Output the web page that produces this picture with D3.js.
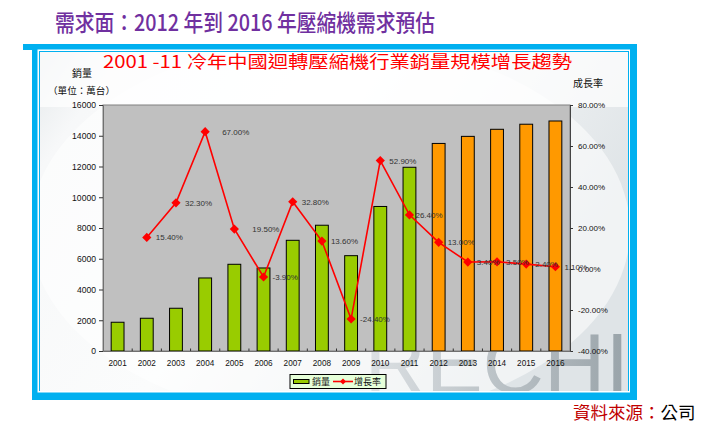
<!DOCTYPE html>
<html>
<head>
<meta charset="utf-8">
<script src="https://cdn.jsdelivr.net/npm/d3@7/dist/d3.min.js"></script>
<style>
  html, body { margin: 0; padding: 0; background: #ffffff; }
  svg { display: block; }
</style>
</head>
<body>
<svg id="chart" width="716" height="442"></svg>
<script>
// ---------------- data ----------------
const categories = ['2001','2002','2003','2004','2005','2006','2007','2008','2009','2010','2011','2012','2013','2014','2015','2016'];
const sales = [1870, 2130, 2780, 4750, 5640, 5400, 7200, 8180, 6200, 9400, 11950, 13500, 13960, 14420, 14750, 14960];
const growth = [null, 15.4, 32.3, 67.0, 19.5, -3.9, 32.8, 13.6, -24.4, 52.9, 26.4, 13.0, 3.4, 3.5, 2.4, 1.1];
const forecastYears = ['2012','2013','2014','2015','2016'];
const salesTicks = [0, 2000, 4000, 6000, 8000, 10000, 12000, 14000, 16000];
const growthTicks = [-40, -20, 0, 20, 40, 60, 80];

const pageTitle = '需求面：2012 年到 2016 年壓縮機需求預估';
const chartTitle = '2001 -11 冷年中國迴轉壓縮機行業銷量規模增長趨勢';
const leftTitle = '銷量';
const leftUnit = '（單位：萬台）';
const rightTitle = '成長率';
const legendLabels = ['銷量', '增長率'];
const sourceLabel = '資料來源：';
const sourceName = '公司';

// ---------------- layout ----------------
const CJK = '"Noto Sans CJK TC", "Noto Sans CJK SC", sans-serif';
const LAT = '"Liberation Sans", Arial, sans-serif';
const plot = { left: 103, right: 570, top: 105, bottom: 351 };

const svg = d3.select('#chart');
const defs = svg.append('defs');

// page title
svg.append('text')
  .attr('x', 55).attr('y', 31)
  .attr('textLength', 380).attr('lengthAdjust', 'spacingAndGlyphs')
  .attr('font-family', CJK).attr('font-size', 23).attr('font-weight', 500)
  .attr('fill', '#7030A0')
  .text(pageTitle);

// frame
svg.append('rect').attr('x', 23).attr('y', 44).attr('width', 443).attr('height', 6).attr('fill', '#00B0F0');
svg.append('rect').attr('x', 32).attr('y', 44).attr('width', 605).attr('height', 356).attr('fill', '#00B0F0');
svg.append('rect').attr('x', 37.5).attr('y', 49.5).attr('width', 592.5).attr('height', 343).attr('fill', '#ffffff');
svg.append('rect').attr('x', 39).attr('y', 51).attr('width', 590).attr('height', 340).attr('fill', '#00B0F0');

// inner background gradient
const bg = defs.append('linearGradient').attr('id', 'bg').attr('x1', '0').attr('y1', '0').attr('x2', '1').attr('y2', '0.4');
bg.append('stop').attr('offset', '0').attr('stop-color', '#e4e8ea');
bg.append('stop').attr('offset', '0.12').attr('stop-color', '#f7f8f9');
bg.append('stop').attr('offset', '0.5').attr('stop-color', '#fbfcfc');
bg.append('stop').attr('offset', '1').attr('stop-color', '#dfe4e7');
defs.append('clipPath').attr('id', 'innerClip')
  .append('rect').attr('x', 40).attr('y', 52).attr('width', 588).attr('height', 339);

const inner = svg.append('g').attr('clip-path', 'url(#innerClip)');
inner.append('rect').attr('x', 40).attr('y', 52).attr('width', 588).attr('height', 339).attr('fill', 'url(#bg)');
inner.append('ellipse').attr('cx', 330).attr('cy', 230).attr('rx', 300).attr('ry', 190).attr('fill', '#ffffff').attr('opacity', 0.55);
inner.append('rect').attr('x', 40).attr('y', 52).attr('width', 588).attr('height', 55).attr('fill', '#ffffff').attr('opacity', 0.7);

// watermark
const wm = defs.append('linearGradient').attr('id', 'wm').attr('x1', '0').attr('y1', '0').attr('x2', '1').attr('y2', '0');
wm.append('stop').attr('offset', '0').attr('stop-color', '#dde1e4');
wm.append('stop').attr('offset', '1').attr('stop-color', '#99a3a9');
inner.append('text')
  .attr('x', 629).attr('y', 393).attr('text-anchor', 'end')
  .attr('font-family', LAT).attr('font-size', 85)
  .attr('fill', 'url(#wm)')
  .text('RECHI');

// chart title
svg.append('text')
  .attr('x', 103).attr('y', 68)
  .attr('textLength', 469).attr('lengthAdjust', 'spacingAndGlyphs')
  .attr('font-family', CJK).attr('font-size', 17)
  .attr('fill', '#FF0000')
  .text(chartTitle);

// axis titles
svg.append('text').attr('x', 82).attr('y', 77).attr('text-anchor', 'middle')
  .attr('font-family', CJK).attr('font-size', 10).attr('fill', '#111').text(leftTitle);
svg.append('text').attr('x', 48).attr('y', 93.5)
  .attr('textLength', 67).attr('lengthAdjust', 'spacingAndGlyphs')
  .attr('font-family', CJK).attr('font-size', 9.5).attr('fill', '#111').text(leftUnit);
svg.append('text').attr('x', 588).attr('y', 87).attr('text-anchor', 'middle')
  .attr('font-family', CJK).attr('font-size', 10).attr('fill', '#111').text(rightTitle);

// scales
const x = d3.scaleBand().domain(categories).range([plot.left, plot.right]).paddingInner(0).paddingOuter(0);
const yL = d3.scaleLinear().domain([0, 16000]).range([plot.bottom, plot.top]);
const yR = d3.scaleLinear().domain([-40, 80]).range([plot.bottom, plot.top]);

// plot area
svg.append('rect')
  .attr('x', plot.left).attr('y', plot.top)
  .attr('width', plot.right - plot.left).attr('height', plot.bottom - plot.top)
  .attr('fill', '#C0C0C0').attr('stroke', '#808080').attr('stroke-width', 1);

// bars
const barW = x.bandwidth() * 0.44;
svg.append('g').selectAll('rect').data(categories).join('rect')
  .attr('x', d => x(d) + (x.bandwidth() - barW) / 2)
  .attr('y', (d, i) => yL(sales[i]))
  .attr('width', barW)
  .attr('height', (d, i) => yL(0) - yL(sales[i]))
  .attr('fill', d => forecastYears.includes(d) ? '#FF9900' : '#99CC00')
  .attr('stroke', '#000').attr('stroke-width', 1);

// axes
const axL = svg.append('g').attr('transform', `translate(${plot.left},0)`)
  .call(d3.axisLeft(yL).tickValues(salesTicks).tickFormat(d3.format('d')).tickSize(4).tickPadding(3));
const axR = svg.append('g').attr('transform', `translate(${plot.right},0)`)
  .call(d3.axisRight(yR).tickValues(growthTicks).tickFormat(d => d.toFixed(2) + '%').tickSize(3).tickPadding(5));
const axB = svg.append('g').attr('transform', `translate(0,${plot.bottom})`)
  .call(d3.axisBottom(x).tickSize(0).tickPadding(9));
[axL, axR, axB].forEach(a => {
  a.select('.domain').attr('stroke', '#707070');
  a.selectAll('.tick line').attr('stroke', '#333');
  a.selectAll('text').attr('font-family', LAT).attr('fill', '#111');
});
axL.selectAll('text').attr('font-size', 8.6);
axR.selectAll('text').attr('font-size', 8);
axB.selectAll('text').attr('font-size', 8.2);
axR.select('.domain').attr('stroke', '#444');

// small inner ticks between categories
svg.append('g').selectAll('line').data(categories.slice(1)).join('line')
  .attr('x1', d => x(d)).attr('x2', d => x(d))
  .attr('y1', plot.bottom - 2.5).attr('y2', plot.bottom)
  .attr('stroke', '#333').attr('stroke-width', 1);

// growth line
const pts = categories.map((c, i) => ({ c, v: growth[i] })).filter(p => p.v !== null);
const line = d3.line().x(p => x(p.c) + x.bandwidth() / 2).y(p => yR(p.v));
svg.append('path').datum(pts)
  .attr('d', line).attr('fill', 'none').attr('stroke', '#FF0000').attr('stroke-width', 1.6);

const diamond = 'M0,-4.6L4.6,0L0,4.6L-4.6,0Z';
svg.append('g').selectAll('path').data(pts).join('path')
  .attr('transform', p => `translate(${x(p.c) + x.bandwidth() / 2},${yR(p.v)})`)
  .attr('d', diamond).attr('fill', '#FF0000');

// data labels
const labelShift = { '2004': 8, '2005': 9, '2011': -3 };
svg.append('g').selectAll('text').data(pts).join('text')
  .attr('x', p => x(p.c) + x.bandwidth() / 2 + 9 + (labelShift[p.c] || 0))
  .attr('y', p => yR(p.v) + 3)
  .attr('font-family', LAT).attr('font-size', 8).attr('fill', '#333')
  .text(p => p.v.toFixed(2) + '%');

// legend
const lg = svg.append('g');
lg.append('rect').attr('x', 290).attr('y', 374.5).attr('width', 96).attr('height', 14)
  .attr('fill', '#E6FFD9').attr('stroke', '#000').attr('stroke-width', 1);
lg.append('rect').attr('x', 293.5).attr('y', 379.5).attr('width', 15.5).attr('height', 4)
  .attr('fill', '#99CC00').attr('stroke', '#000').attr('stroke-width', 1);
lg.append('text').attr('x', 312).attr('y', 385).attr('font-family', CJK).attr('font-size', 9).attr('fill', '#111').text(legendLabels[0]);
lg.append('line').attr('x1', 333).attr('x2', 353).attr('y1', 381.5).attr('y2', 381.5).attr('stroke', '#FF0000').attr('stroke-width', 1.6);
lg.append('path').attr('transform', 'translate(343,381.5)').attr('d', 'M0,-3L3,0L0,3L-3,0Z').attr('fill', '#FF0000');
lg.append('text').attr('x', 354).attr('y', 385).attr('font-family', CJK).attr('font-size', 9).attr('fill', '#111').text(legendLabels[1]);

// source
const src = svg.append('text').attr('x', 573).attr('y', 419)
  .attr('font-family', CJK).attr('font-size', 17.5);
src.append('tspan').attr('fill', '#C00000').text(sourceLabel);
src.append('tspan').attr('fill', '#000').text(sourceName);
</script>
</body>
</html>
